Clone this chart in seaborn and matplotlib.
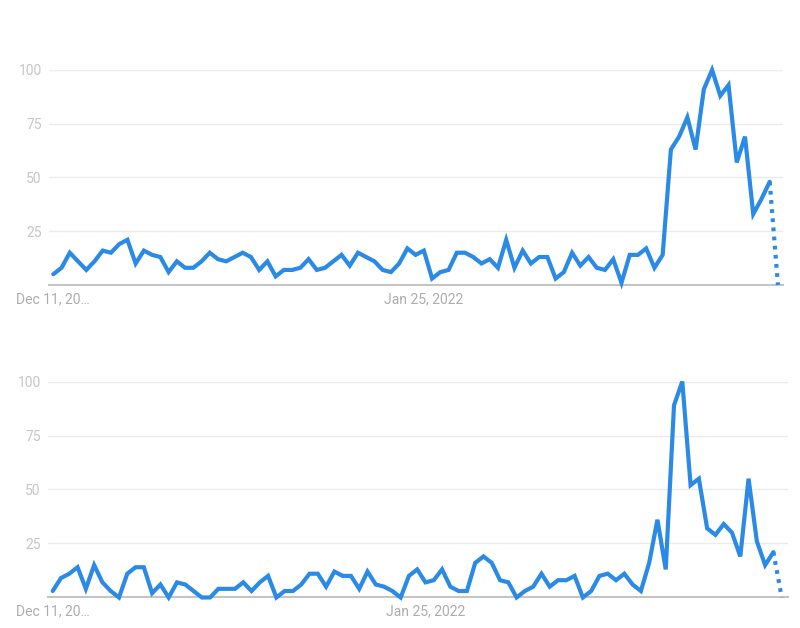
import numpy as np
import pandas as pd
import matplotlib.pyplot as plt
import seaborn as sns

# daily interest values (last point is the partial, dotted one)
top_values = [5, 8, 15, 11, 7, 11, 16, 15, 19, 21, 10, 16, 14, 13, 6, 11, 8, 8, 11, 15,
              12, 11, 13, 15, 13, 7, 11, 4, 7, 7, 8, 12, 7, 8, 11, 14, 9, 15, 13, 11,
              7, 6, 10,
              17, 14, 16, 3, 6, 7, 15, 15, 13, 10, 12, 8, 21, 8, 16, 10, 13, 13, 3, 6,
              15, 9, 13, 8, 7, 12, 1, 14, 14, 17, 8, 14, 63, 69, 78, 63, 91, 100, 88, 93,
              57, 69, 33, 40, 48, 0]
bottom_values = [3, 9, 11, 14, 4, 15, 7, 3, 0, 11, 14, 14, 2, 6, 0, 7, 6, 3, 0, 0,
                 4, 4, 4, 7, 3, 7, 10, 0, 3, 3, 6, 11, 11, 5, 12, 10, 10, 4, 12, 6,
                 5, 3, 0,
                 10, 13, 7, 8, 13, 5, 3, 3, 16, 19, 16, 8, 7, 0, 3, 5, 11, 5, 8, 8,
                 10, 0, 3, 10, 11, 8, 11, 6, 3, 16, 36, 13, 89, 100, 52, 55, 32, 29, 34,
                 30, 19, 55, 26, 15, 21, 0]
x_tick_days = [0, 45]
x_tick_labels = ["Dec 11, 20…", "Jan 25, 2022"]
y_ticks = [25, 50, 75, 100]

blue = "#2a8ae5"

sns.set_theme(style="white")
plt.rcParams['font.family'] = ['Roboto', 'DejaVu Sans']

fig = plt.figure(figsize=(8, 6.28), dpi=100)
ax_top = fig.add_axes([0.0616, 0.5462, 0.9171, 0.3424])
ax_bot = fig.add_axes([0.0604, 0.0486, 0.9246, 0.3439])


def draw(ax, values, xlim):
    df = pd.DataFrame({"day": np.arange(len(values)), "value": values})
    solid = df.iloc[:-1]
    tail = df.iloc[-2:]
    sns.lineplot(data=solid, x="day", y="value", ax=ax, color=blue, linewidth=3.0,
                 clip_on=False, solid_joinstyle="miter", zorder=3)
    sns.lineplot(data=tail, x="day", y="value", ax=ax, color=blue, linewidth=3.0,
                 linestyle=(0, (0.9, 1.3)), clip_on=False, zorder=3)
    ax.set_xlim(*xlim)
    ax.set_ylim(0, 100)
    ax.set_yticks(y_ticks)
    ax.set_yticklabels([str(v) for v in y_ticks])
    ax.set_xticks(x_tick_days)
    ax.set_xticklabels(x_tick_labels)
    ax.set_xlabel("")
    ax.set_ylabel("")
    ax.grid(axis="y", color="#ebebeb", linewidth=1)
    ax.grid(axis="x", visible=False)
    for s in ["top", "right", "left"]:
        ax.spines[s].set_visible(False)
    ax.spines["bottom"].set_color("#c4c4c4")
    ax.spines["bottom"].set_linewidth(1.5)
    ax.tick_params(axis="y", length=0, pad=5.5, labelsize=10, labelcolor="#c6c6c6")
    ax.tick_params(axis="x", length=0, pad=5, labelsize=10, labelcolor="#adadad")


draw(ax_top, top_values, (-0.49, 88.61))
draw(ax_bot, bottom_values, (-0.53, 88.76))

fig.savefig("out.png", dpi=100, facecolor="white")
